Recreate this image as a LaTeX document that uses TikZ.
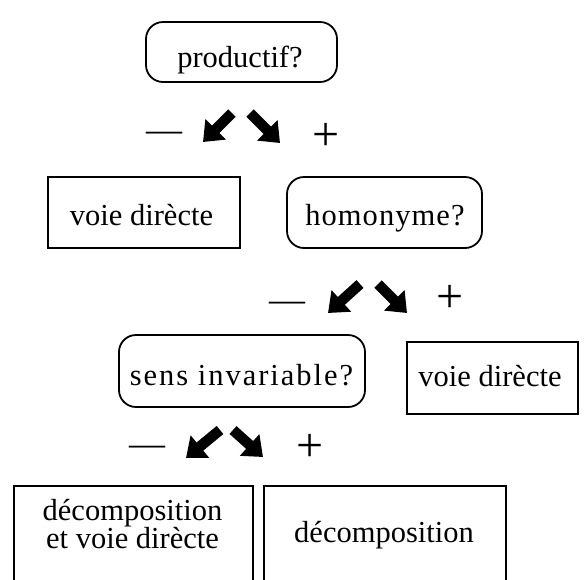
\documentclass[tikz,border=0pt]{standalone}
\usepackage{fontspec}
\setmainfont{Liberation Serif}
\usetikzlibrary{arrows.meta}
\begin{document}
\begin{tikzpicture}[x=1pt,y=-1pt,
  decision/.style={draw, line width=1.8pt, rounded corners=17pt},
  outcome/.style={draw, line width=1.8pt},
  label/.style={font=\fontsize{30.5}{28}\selectfont, inner sep=0pt, align=center},
  minus/.style={font=\fontsize{36}{36}\selectfont, inner sep=0pt, anchor=base},
  plus/.style={font=\fontsize{48}{48}\selectfont, inner sep=0pt, anchor=base},
  choice/.style={line width=10.5pt, -{Triangle[width=28pt,length=18pt]}}]

\useasboundingbox (0,0) rectangle (586,579);
\clip (0,0) rectangle (586,579);

% question boxes
\node[decision, minimum width=191pt, minimum height=60pt] (q1) at (241.5,52) {};
\node[label, anchor=base] (q1t) at (240,67) {productif?};

\node[decision, minimum width=195pt, minimum height=71pt] (q2) at (384.5,212.5) {};
\node[label, anchor=base] (q2t) at (385,225) {\addfontfeature{LetterSpace=3.5}homonyme?};

\node[decision, minimum width=246pt, minimum height=72pt] (q3) at (242,371) {};
\node[label, anchor=base] (q3t) at (241.5,385) {\addfontfeature{LetterSpace=6.5}sens invariable?};

% outcome boxes
\node[outcome, minimum width=192pt, minimum height=71pt] (r1) at (144,212.5) {};
\node[label, anchor=base] (r1t) at (141.5,225) {voie dirècte};

\node[outcome, minimum width=171pt, minimum height=72pt] (r2) at (492.5,378) {};
\node[label, anchor=base] (r2t) at (490,386) {voie dirècte};

\node[outcome, anchor=north west, minimum width=239pt, minimum height=130pt] (r3) at (13,485) {};
\node[label] (r3t) at (132.5,524) {décomposition\\et voie dirècte};

\node[outcome, anchor=north west, minimum width=242pt, minimum height=130pt] (r4) at (263,485) {};
\node[label, anchor=base] (r4t) at (384,542) {décomposition};

% answer signs
\node[minus] (n1) at (164,141.5) {—};
\node[plus] (p1) at (326,150) {+};
\node[minus] (n2) at (287,311.5) {—};
\node[plus] (p2) at (450,312) {+};
\node[minus] (n3) at (147,455.5) {—};
\node[plus] (p3) at (310,461) {+};

% branch arrows
\coordinate (a1s) at (232,113); \coordinate (a1e) at (203,142);
\coordinate (b1s) at (250,113); \coordinate (b1e) at (280,143);
\coordinate (a2s) at (360,284); \coordinate (a2e) at (328,313);
\coordinate (b2s) at (378,284); \coordinate (b2e) at (407,313);
\coordinate (a3s) at (220,430); \coordinate (a3e) at (186,458);
\coordinate (b3s) at (233,430); \coordinate (b3e) at (263,457);
\draw[choice] (a1s) -- (a1e);
\draw[choice] (b1s) -- (b1e);
\draw[choice] (a2s) -- (a2e);
\draw[choice] (b2s) -- (b2e);
\draw[choice] (a3s) -- (a3e);
\draw[choice] (b3s) -- (b3e);
\end{tikzpicture}
\end{document}
